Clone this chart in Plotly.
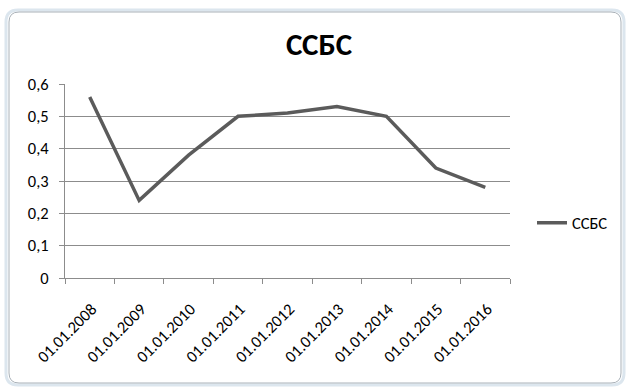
import plotly.graph_objects as go

# Series data
dates = ["01.01.2008", "01.01.2009", "01.01.2010", "01.01.2011", "01.01.2012",
         "01.01.2013", "01.01.2014", "01.01.2015", "01.01.2016"]
ssbs = [0.56, 0.24, 0.38, 0.50, 0.51, 0.53, 0.50, 0.34, 0.28]
series_name = "ССБС"
y_ticks = [0, 0.1, 0.2, 0.3, 0.4, 0.5, 0.6]
y_labels = ["0", "0,1", "0,2", "0,3", "0,4", "0,5", "0,6"]

W, H = 628, 387
L, R, T, B = 65, 118, 84, 109
pw, ph = W - L - R, H - T - B

def px_x(x):
    return (x - L) / pw

def px_y(y):
    return (H - B - y) / ph

FONT = "Carlito, 'Liberation Sans Narrow', 'Open Sans', sans-serif"
AX = "#8c8c8c"
TICK_SIZE = 16.5

fig = go.Figure()
fig.add_trace(go.Scatter(
    x=dates, y=ssbs, mode="lines", name=series_name,
    line=dict(color="#5b5b5b", width=3.5),
))

def rounded(x0, x1, y0, y1, r):
    return (f"M {px_x(x0 + r)} {px_y(y0)} L {px_x(x1 - r)} {px_y(y0)} "
            f"Q {px_x(x1)} {px_y(y0)} {px_x(x1)} {px_y(y0 + r)} "
            f"L {px_x(x1)} {px_y(y1 - r)} Q {px_x(x1)} {px_y(y1)} {px_x(x1 - r)} {px_y(y1)} "
            f"L {px_x(x0 + r)} {px_y(y1)} Q {px_x(x0)} {px_y(y1)} {px_x(x0)} {px_y(y1 - r)} "
            f"L {px_x(x0)} {px_y(y0 + r)} Q {px_x(x0)} {px_y(y0)} {px_x(x0 + r)} {px_y(y0)} Z")

fig.update_layout(
    width=W, height=H,
    margin=dict(l=L, r=R, t=T, b=B),
    paper_bgcolor="#ffffff",
    plot_bgcolor="rgba(0,0,0,0)",
    font=dict(family=FONT, size=TICK_SIZE, color="#000000"),
    title=dict(text="<b>" + series_name + "</b>", x=319 / W, xanchor="center",
               y=1 - 44 / H, yanchor="middle", font=dict(size=31)),
    shapes=[
        dict(type="path", path=rounded(6, 624, 10, 385, 12), xref="paper", yref="paper",
             line=dict(color="#dce6ee", width=3), fillcolor="rgba(0,0,0,0)", layer="below"),
        dict(type="path", path=rounded(9, 621, 12, 383, 10), xref="paper", yref="paper",
             line=dict(color="#a9b1b8", width=1), fillcolor="#ffffff", layer="below"),
    ],
    showlegend=True,
    legend=dict(x=px_x(532), y=px_y(223), xanchor="left", yanchor="middle",
                bgcolor="rgba(0,0,0,0)", font=dict(size=TICK_SIZE),
                itemwidth=30, tracegroupgap=0),
    xaxis=dict(type="category", tickson="boundaries", ticks="outside", ticklen=5,
               tickcolor=AX, showline=True, linecolor=AX, linewidth=1,
               showgrid=False, tickangle=-45, tickfont=dict(size=TICK_SIZE),
               ticklabelstandoff=14, ticklabelshift=2,
               range=[-0.5, len(dates) - 0.5]),
    yaxis=dict(range=[0, 0.6], tickvals=y_ticks, ticktext=y_labels, ticks="outside",
               ticklen=5, tickcolor=AX, showline=True, linecolor=AX, linewidth=1,
               showgrid=True, gridcolor=AX, gridwidth=1, zeroline=False,
               ticklabelstandoff=7, tickfont=dict(size=TICK_SIZE)),
)

fig.write_html("out.html")
